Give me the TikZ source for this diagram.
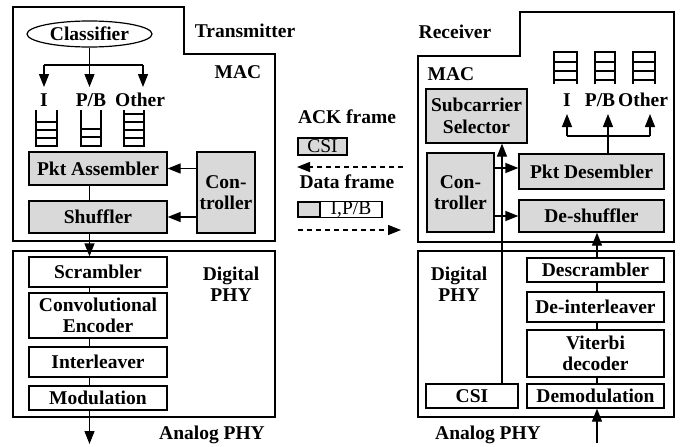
\documentclass[tikz,border=0pt]{standalone}
\usepackage{fontspec}
\setmainfont{Liberation Serif}
\usetikzlibrary{arrows.meta,shapes.geometric}
\definecolor{boxgray}{RGB}{217,217,217}
\begin{document}
\begin{tikzpicture}[x=1pt,y=-1pt,
  font=\fontsize{19.5}{21.5}\selectfont\bfseries,
  ln/.style={line width=1.2pt},
  bx/.style 2 args={draw,line width=1.2pt,minimum width=#1pt,minimum height=#2pt,inner sep=0pt,align=center},
  gbx/.style 2 args={bx={#1}{#2},fill=boxgray},
  arr/.style={line width=1.2pt,-{Triangle[length=13pt,width=10pt]}},
  dsh/.style={dash pattern=on 5pt off 4pt},
  lbl/.style={inner sep=0pt,align=center},
  reg/.style={font=\fontsize{19.5}{21.5}\selectfont\mdseries}
]
\useasboundingbox (0,0) rectangle (683,447);

% ---------------- Transmitter ----------------
\draw[ln] (13,7) -- (184,7) -- (184,54) -- (275,54) -- (275,241) -- (13,241) -- cycle;
\node[lbl] (txt) at (245,31) {Transmitter};
\node[lbl] (tmac) at (238,72) {MAC};
\node[draw,ellipse,ln,minimum width=125pt,minimum height=26pt,inner sep=0pt] (cls) at (89.5,34) {Classifier};
\coordinate (tj) at (89.5,65);
\coordinate (tjl) at (44,65);
\coordinate (tjr) at (143,65);
\draw[ln] (cls.south) -- (tj);
\draw[ln] (tjl) -- (tjr);
\coordinate (tqa) at (44,87);
\coordinate (tqb) at (89.5,87);
\coordinate (tqc) at (143,87);
\draw[arr] (tjl) -- (tqa);
\draw[arr] (tj) -- (tqb);
\draw[arr] (tjr) -- (tqc);
\node[lbl] (tlI) at (44,100) {I};
\node[lbl] (tlP) at (91,100) {P/B};
\node[lbl] (tlO) at (140,100) {Other};
% queues
\draw[ln] (36,110) -- (36,146) -- (57,146) -- (57,110);
\foreach \y in {122,130,138} \draw[ln] (36,\y) -- (57,\y);
\draw[ln] (81,110) -- (81,146) -- (101,146) -- (101,110);
\foreach \y in {129,137} \draw[ln] (81,\y) -- (101,\y);
\draw[ln] (124,110) -- (124,146) -- (144,146) -- (144,110);
\foreach \y in {114,122,130,138} \draw[ln] (124,\y) -- (144,\y);

\node[gbx={138}{33}] (pa) at (98,168.5) {Pkt Assembler};
\node[gbx={138}{32}] (shf) at (98,217) {Shuffler};
\node[gbx={58}{81}] (tctl) at (226,192.5) {Con-\\troller};
\draw[ln] (pa.south -| cls) -- (shf.north -| cls);
\draw[arr] (tctl.west |- pa.east) -- (pa.east);
\draw[arr] (tctl.west |- shf.east) -- (shf.east);

% Transmitter digital PHY
\draw[ln] (13,251) rectangle (275,417);
\node[bx={138}{30}] (scr) at (98,272) {Scrambler};
\node[bx={138}{45}] (enc) at (98,315.5) {Convolutional\\Encoder};
\node[bx={138}{30}] (itl) at (98,362) {Interleaver};
\node[bx={138}{24}] (mod) at (98,398) {Modulation};
\draw[arr] (shf.south -| cls) -- (scr.north -| cls);
\draw[ln] (scr.south -| cls) -- (enc.north -| cls);
\draw[ln] (enc.south -| cls) -- (itl.north -| cls);
\draw[ln] (itl.south -| cls) -- (mod.north -| cls);
\coordinate (tout) at (89.5,444);
\draw[arr] (mod.south -| cls) -- (tout);
\node[lbl] (tdp) at (231,284) {Digital\\PHY};
\node[lbl] (tap) at (212,435) {Analog PHY};

% ---------------- Middle ----------------
\node[lbl] (ack) at (347,117) {ACK frame};
\node[gbx={49}{17},reg] (ackcsi) at (322.5,146.5) {CSI};
\coordinate (ackR) at (403,167);
\coordinate (ackL) at (297,167);
\draw[arr,dsh] (ackR) -- (ackL);
\node[lbl] (data) at (347,182) {Data frame};
\node[gbx={22}{15}] (dg) at (309,209.5) {};
\node[bx={62}{15},reg] (dw) at (351,209.5) {I,P/B};
\coordinate (datL) at (298,230);
\coordinate (datR) at (401,230);
\draw[arr,dsh] (datL) -- (datR);

% ---------------- Receiver ----------------
\draw[ln] (418,56) -- (520,56) -- (520,12) -- (674,12) -- (674,242) -- (418,242) -- cycle;
\node[lbl] (rxt) at (455,32) {Receiver};
\node[lbl] (rmac) at (451,74) {MAC};
\node[gbx={101}{54}] (sub) at (476.5,116) {Subcarrier\\Selector};
% queues
\draw[ln] (554,84) -- (554,52) -- (577,52) -- (577,84);
\foreach \y in {62,71,80} \draw[ln] (554,\y) -- (577,\y);
\draw[ln] (595,84) -- (595,52) -- (615,52) -- (615,84);
\foreach \y in {62,71,80} \draw[ln] (595,\y) -- (615,\y);
\draw[ln] (633,84) -- (633,52) -- (655,52) -- (655,84);
\foreach \y in {62,71,80} \draw[ln] (633,\y) -- (655,\y);
\node[lbl] (rlI) at (567,100) {I};
\node[lbl] (rlP) at (600,100) {P/B};
\node[lbl] (rlO) at (643,100) {Other};

\node[gbx={67}{79}] (rctl) at (460.5,192.5) {Con-\\troller};
\node[gbx={145}{35}] (pd) at (591.5,171.5) {Pkt Desembler};
\node[gbx={145}{32}] (dsf) at (591.5,216) {De-shuffler};
\coordinate (rj) at (608,136);
\coordinate (rjl) at (567,136);
\coordinate (rjr) at (650,136);
\draw[ln] (pd.north -| rj) -- (rj);
\draw[ln] (rjl) -- (rjr);
\coordinate (rqa) at (567,114);
\coordinate (rqb) at (608,114);
\coordinate (rqc) at (650,114);
\draw[arr] (rjl) -- (rqa);
\draw[arr] (rj) -- (rqb);
\draw[arr] (rjr) -- (rqc);
\coordinate (ra1) at (494,168);
\draw[arr] (ra1) -- (ra1 -| pd.west);
\draw[arr] (rctl.east |- dsf.west) -- (dsf.west);

% Receiver digital PHY
\draw[ln] (418,251) rectangle (674,417);
\node[bx={137}{24}] (dsc) at (595.5,270) {Descrambler};
\node[bx={137}{30}] (dil) at (595.5,307) {De-interleaver};
\node[bx={137}{47}] (vit) at (595.5,353.5) {Viterbi\\decoder};
\node[bx={137}{24}] (dem) at (595.5,396) {Demodulation};
\node[bx={92}{24}] (csi) at (472,396) {CSI};
\coordinate (cx) at (502,0);
\draw[arr] (csi.north -| cx) -- (sub.south -| cx);
\coordinate (sx) at (597,0);
\draw[arr] (dsc.north -| sx) -- (dsf.south -| sx);
\draw[ln] (dil.north -| sx) -- (dsc.south -| sx);
\draw[ln] (vit.north -| sx) -- (dil.south -| sx);
\draw[ln] (dem.north -| sx) -- (vit.south -| sx);
\coordinate (rin) at (597,443);
\draw[arr] (rin) -- (dem.south -| sx);
\node[lbl] (rdp) at (459,284) {Digital\\PHY};
\node[lbl] (rap) at (488,435) {Analog PHY};
\end{tikzpicture}
\end{document}
